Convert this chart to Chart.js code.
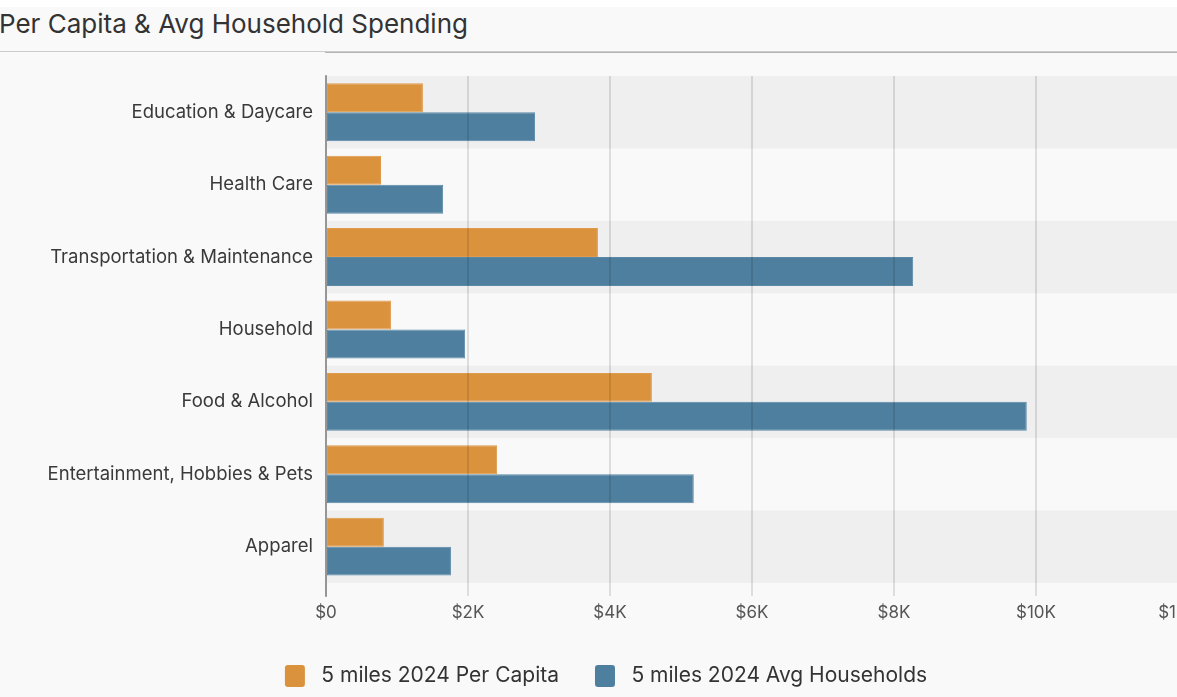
<!DOCTYPE html>
<html>
<head>
<meta charset="utf-8">
<script src="https://cdn.jsdelivr.net/npm/chart.js@4.4.0/dist/chart.umd.min.js"></script>
<style>
  html, body { margin: 0; padding: 0; overflow: hidden; }
  body { width: 1177px; height: 697px; background: #f9f9f9; font-family: Inter, sans-serif; position: relative; }
  .topstrip { position: absolute; left: 0; top: 0; width: 100%; height: 7px; background: #fff; }
  .title { position: absolute; left: -1px; top: 8px; font-size: 26px; line-height: 32px; color: #333; white-space: nowrap; }
  .rule { position: absolute; left: 0; top: 51px; width: 100%; height: 1px; background: #cccccc; }
  #spending { position: absolute; left: 0; top: 52px; }
</style>
</head>
<body>
<div class="topstrip"></div>
<div class="title">Per Capita &amp; Avg Household Spending</div>
<div class="rule"></div>
<canvas id="spending" width="1178" height="645"></canvas>
<script>
const categories = [
    'Education & Daycare',
    'Health Care',
    'Transportation & Maintenance',
    'Household',
    'Food & Alcohol',
    'Entertainment, Hobbies & Pets',
    'Apparel'
];
const perCapita = [1365, 775, 3830, 915, 4590, 2410, 815];
const avgHouseholds = [2945, 1650, 8270, 1960, 9870, 5180, 1760];
const xTicks = [0, 2000, 4000, 6000, 8000, 10000, 12000];

// category positions on a linear y axis, so the axis line can sit below the last band
const rows = categories.map((_, i) => i);

// alternating row bands behind the bars
const rowBands = {
    id: 'rowBands',
    beforeDraw(chart) {
        const { ctx, chartArea, scales } = chart;
        ctx.save();
        ctx.fillStyle = '#efefef';
        rows.forEach(i => {
            if (i % 2 !== 0) return;
            const y1 = scales.y.getPixelForValue(i - 0.5);
            const y2 = scales.y.getPixelForValue(i + 0.5);
            ctx.fillRect(chartArea.left, y1, chartArea.right - chartArea.left, y2 - y1);
        });
        ctx.restore();
    }
};

const fmtMoney = v => v === 0 ? '$0' : '$' + (v / 1000) + 'K';

new Chart(document.getElementById('spending').getContext('2d'), {
    type: 'bar',
    data: {
        labels: rows,
        datasets: [{
            label: '5 miles 2024 Per Capita',
            data: perCapita,
            backgroundColor: '#db923d',
            borderColor: '#e09a4c',
            borderWidth: 1,
            borderSkipped: false
        }, {
            label: '5 miles 2024 Avg Households',
            data: avgHouseholds,
            backgroundColor: '#4e7f9e',
            borderColor: '#5a88a6',
            borderWidth: 1,
            borderSkipped: false
        }]
    },
    options: {
        indexAxis: 'y',
        responsive: false,
        animation: false,
        layout: { padding: { top: 19, left: 34, right: 0, bottom: 0 } },
        datasets: { bar: { categoryPercentage: 0.8, barPercentage: 1.0 } },
        scales: {
            y: {
                type: 'linear',
                reverse: true,
                offset: false,
                min: -0.5,
                max: 6.69,
                afterBuildTicks: s => { s.ticks = rows.map(v => ({ value: v })); },
                afterFit: s => { s.width = 292; },
                grid: { display: false, drawTicks: false, offset: false },
                border: { display: true, color: '#a9a9a9', width: 2 },
                ticks: {
                    padding: 13,
                    color: '#3a3a3a',
                    font: { family: 'Inter', size: 18.5 },
                    callback: v => categories[v] ?? ''
                }
            },
            x: {
                min: 0,
                max: 12000,
                afterBuildTicks: s => { s.ticks = xTicks.map(v => ({ value: v })); },
                afterFit: s => { s.paddingRight = 0; },
                grid: { color: 'rgba(0,0,0,0.11)', lineWidth: 2, drawTicks: false, z: 1 },
                border: { display: true, color: '#b5b5b5', width: 2 },
                ticks: {
                    padding: 6,
                    color: '#555',
                    font: { family: 'Inter', size: 17 },
                    callback: v => fmtMoney(v)
                }
            }
        },
        plugins: {
            legend: {
                position: 'bottom',
                labels: {
                    boxWidth: 20,
                    boxHeight: 22,
                    padding: 36,
                    color: '#333',
                    useBorderRadius: true,
                    borderRadius: 3,
                    font: { family: 'Inter', size: 21 },
                    generateLabels: chart => Chart.defaults.plugins.legend.labels.generateLabels(chart)
                        .map(item => ({ ...item, text: ' ' + item.text, lineWidth: 0 }))
                }
            },
            tooltip: { enabled: false }
        }
    },
    plugins: [rowBands]
});
</script>
</body>
</html>
